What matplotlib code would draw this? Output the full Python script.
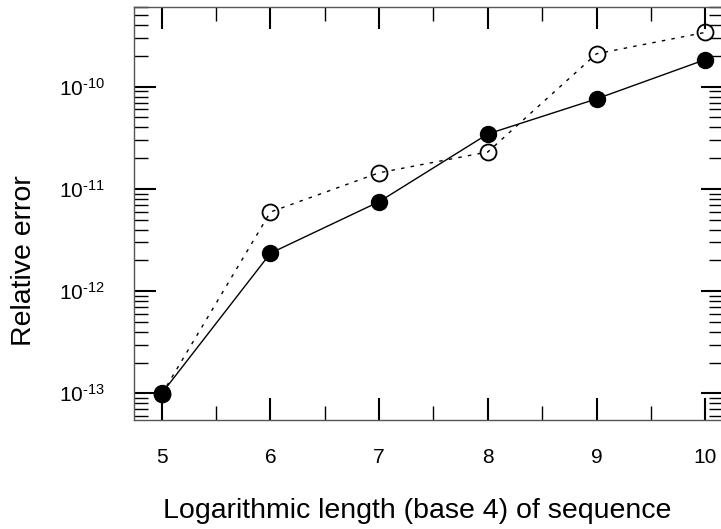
import numpy as np
import matplotlib
matplotlib.use('Agg')
import matplotlib.pyplot as plt
from matplotlib.ticker import FixedLocator, FuncFormatter, LogLocator, NullFormatter

plt.rcParams['font.family'] = 'Liberation Sans'
plt.rcParams['mathtext.fontset'] = 'custom'
plt.rcParams['mathtext.rm'] = 'Liberation Sans'
plt.rcParams['mathtext.it'] = 'Liberation Sans'

# log4 length of sequence
lengths = [5, 6, 7, 8, 9, 10]
# relative error, solid line with filled dots
err_filled = [1.0e-13, 2.35e-12, 7.5e-12, 3.45e-11, 7.6e-11, 1.84e-10]
# relative error, dotted line with open circles
err_open = [0.98e-13, 5.95e-12, 1.44e-11, 2.3e-11, 2.1e-10, 3.4e-10]

xticks = [5, 6, 7, 8, 9, 10]
ydecades = [-13, -12, -11, -10]

fig = plt.figure(figsize=(7.21, 5.29), dpi=100)
ax = fig.add_axes([134/721, 1 - 420/529, (723 - 134)/721, (420 - 7)/529])

ax.plot(lengths, err_open, color='black', lw=1.0, linestyle=(0, (2.5, 4.5)),
        marker='o', ms=11.5, mfc='none', mec='black', mew=1.3)
ax.plot(lengths, err_filled, color='black', lw=1.0,
        marker='o', ms=11.5, mfc='black', mec='black')

ax.set_yscale('log')
ax.set_xlim(4.744, 10.164)
ax.set_ylim(10**-13.261, 10**-9.22)

ax.xaxis.set_major_locator(FixedLocator(xticks))
ax.xaxis.set_minor_locator(FixedLocator([x + 0.5 for x in xticks[:-1]]))
ax.yaxis.set_major_locator(FixedLocator([10.0**d for d in ydecades]))
ax.yaxis.set_minor_locator(LogLocator(base=10, subs=np.arange(2, 10), numticks=20))
ax.yaxis.set_minor_formatter(NullFormatter())
ax.yaxis.set_major_formatter(FuncFormatter(
    lambda v, p: r'$\mathregular{10^{\text{-}%d}}$' % abs(round(np.log10(v)))))

ax.tick_params(which='both', direction='in', top=True, right=True, colors='black')
ax.tick_params(which='major', length=16, width=1.5, labelsize=15)
ax.tick_params(which='minor', length=10, width=1.0)
ax.tick_params(axis='y', which='major', pad=21)
ax.tick_params(axis='x', which='major', pad=20)

for s in ax.spines.values():
    s.set_linewidth(1.0)
    s.set_color('#555555')

ax.set_xlabel('Logarithmic length (base 4) of sequence', fontsize=20.5)
ax.xaxis.set_label_coords(0.4805, -0.19)
ax.set_ylabel('Relative error', fontsize=20.5)
ax.yaxis.set_label_coords(-0.165, 0.387)

fig.savefig('out.png', dpi=100)
